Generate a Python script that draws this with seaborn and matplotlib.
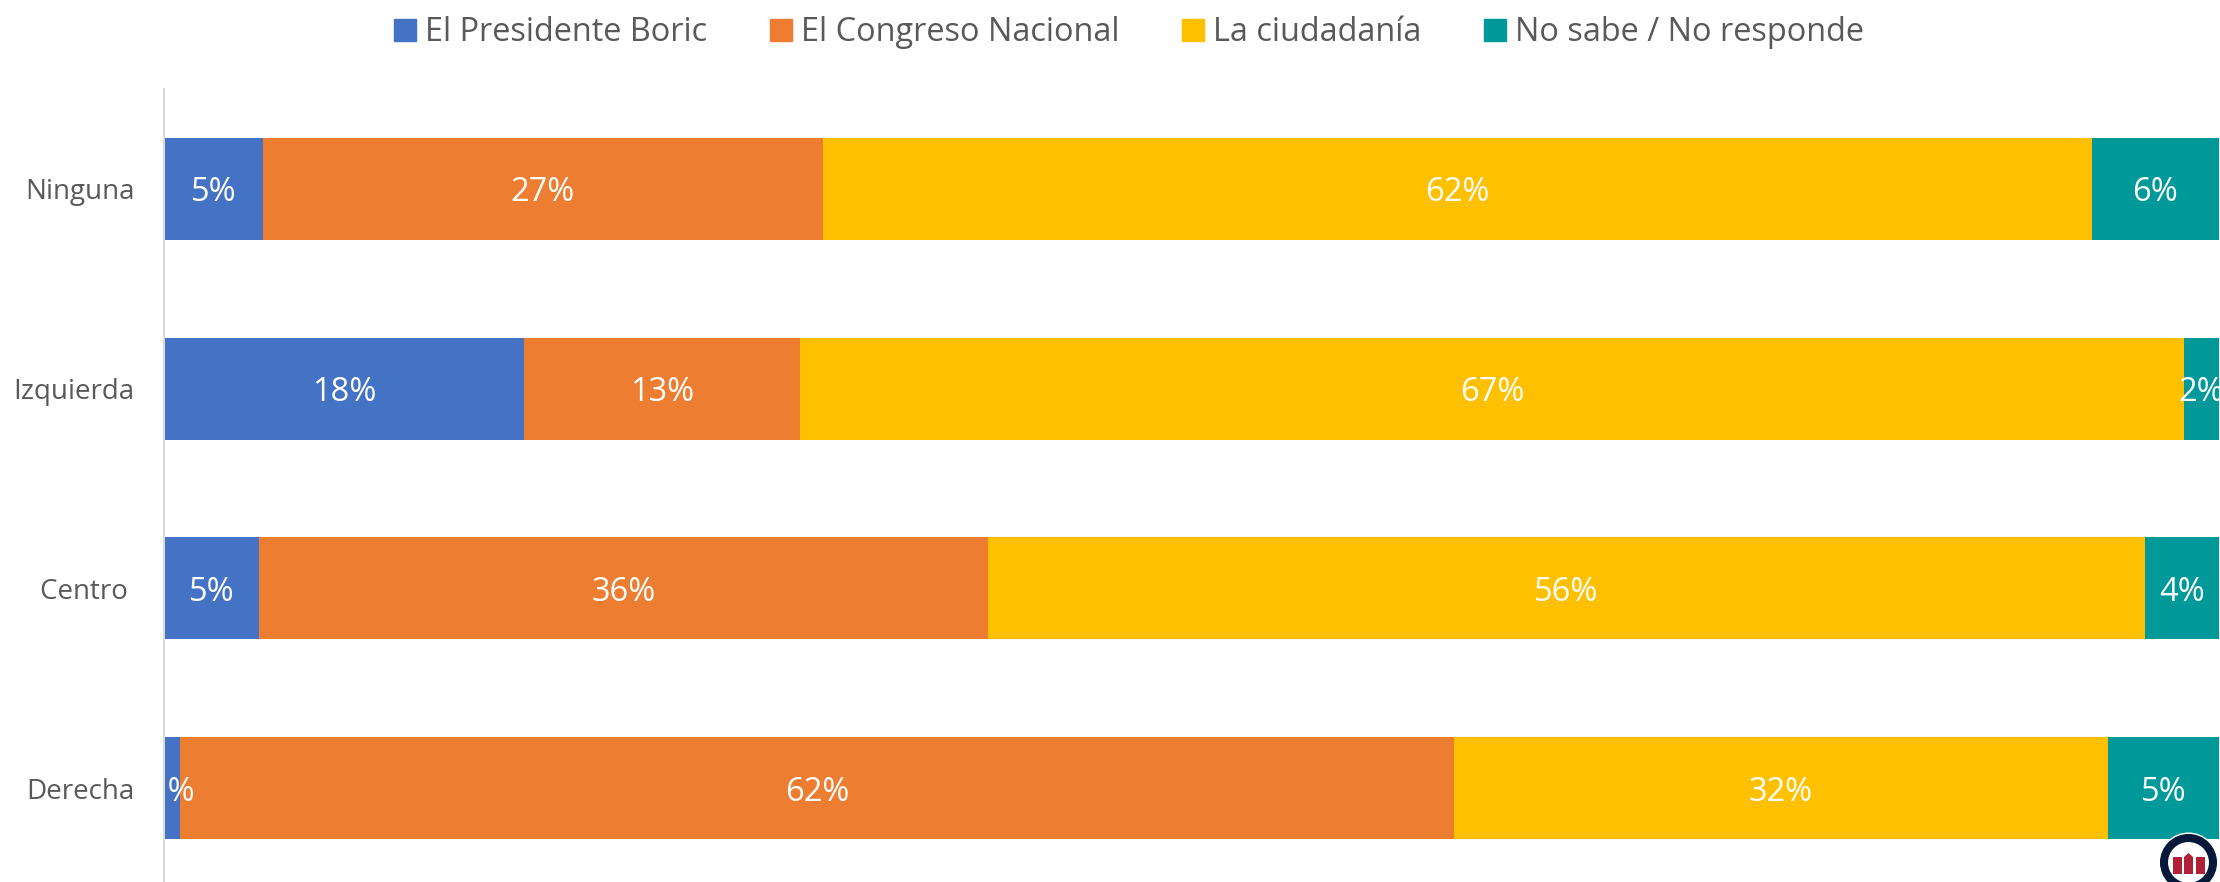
import numpy as np
import pandas as pd
import matplotlib
matplotlib.use("Agg")
import matplotlib.pyplot as plt
from matplotlib.patches import Circle, Rectangle, Polygon
import seaborn as sns

categories = ["Ninguna", "Izquierda", "Centro", "Derecha"]
series_names = ["El Presidente Boric", "El Congreso Nacional", "La ciudadanía", "No sabe / No responde"]

boric = [4.8, 17.5, 4.6, 0.8]
congreso = [27.25, 13.45, 35.5, 61.95]
ciudadania = [61.75, 67.35, 56.3, 31.85]
no_sabe = [6.2, 1.7, 3.6, 5.4]

labels_boric = ["5%", "18%", "5%", "1%"]
labels_congreso = ["27%", "13%", "36%", "62%"]
labels_ciudadania = ["62%", "67%", "56%", "32%"]
labels_no_sabe = ["6%", "2%", "4%", "5%"]

colors = ["#4472C4", "#ED7D31", "#FFC000", "#009999"]
text_color = "#595959"

sns.set_theme(style="white")
plt.rcParams["font.family"] = ["Open Sans", "DejaVu Sans"]

W, H = 2220, 882
fig = plt.figure(figsize=(W / 100, H / 100), dpi=100)
ax = fig.add_axes([164 / W, 0, (2219 - 164) / W, (882 - 89) / H])

values = np.array([boric, congreso, ciudadania, no_sabe])
all_labels = [labels_boric, labels_congreso, labels_ciudadania, labels_no_sabe]
cum = values.cumsum(axis=0)

# stacked look: draw the cumulative totals, longest first
for i in range(3, -1, -1):
    df = pd.DataFrame({"cat": categories, "val": cum[i]})
    sns.barplot(data=df, y="cat", x="val", color=colors[i], saturation=1,
                width=0.51, ax=ax, linewidth=0, edgecolor="none")

for i in range(4):
    left = cum[i] - values[i]
    for j in range(4):
        ax.text(left[j] + values[i][j] / 2, j + 0.02, all_labels[i][j], color="white",
                fontsize=23.5, ha="center", va="center", clip_on=False)

ax.set_xlim(0, 100)
ax.set_ylim(3.47, -0.5)
ax.set_xlabel("")
ax.set_ylabel("")
ax.set_xticks([])
ax.set_yticks(range(4))
ax.set_yticklabels(["Ninguna", "Izquierda", "Centro\u00a0", "Derecha"])
ax.tick_params(axis="y", length=0, pad=21, labelsize=20, labelcolor=text_color)

sns.despine(ax=ax, top=True, right=True, bottom=True)
ax.spines["left"].set_color("#D9D9D9")
ax.spines["left"].set_linewidth(1.5)

handles = [Rectangle((0, 0), 1, 1, color=c) for c in colors]
fig.legend(handles, series_names, loc="upper center", bbox_to_anchor=(1129 / W, 1.0), ncol=4,
           frameon=False, fontsize=23.4, labelcolor=text_color, handlelength=0.68, handleheight=0.68,
           handletextpad=0.28, columnspacing=1.93, borderaxespad=0.1)

# logo in the bottom right corner, in pixels
px = matplotlib.transforms.Affine2D().scale(1, -1).translate(0, H)
fig.add_artist(Circle((2188.5, 862.5), 30, fc="white", ec="none", transform=px))
fig.add_artist(Circle((2188.5, 862.5), 24.5, fc="white", ec="#04183A", lw=5.8, transform=px))
for x0 in (2173, 2196):
    fig.add_artist(Rectangle((x0, 857), 9, 17, fc="#B02036", ec="none", transform=px))
fig.add_artist(Polygon([(2184, 857), (2188.5, 853), (2193, 857), (2193, 874), (2184, 874)],
                       fc="#B02036", ec="none", transform=px))

plt.savefig("out.png", dpi=100)
